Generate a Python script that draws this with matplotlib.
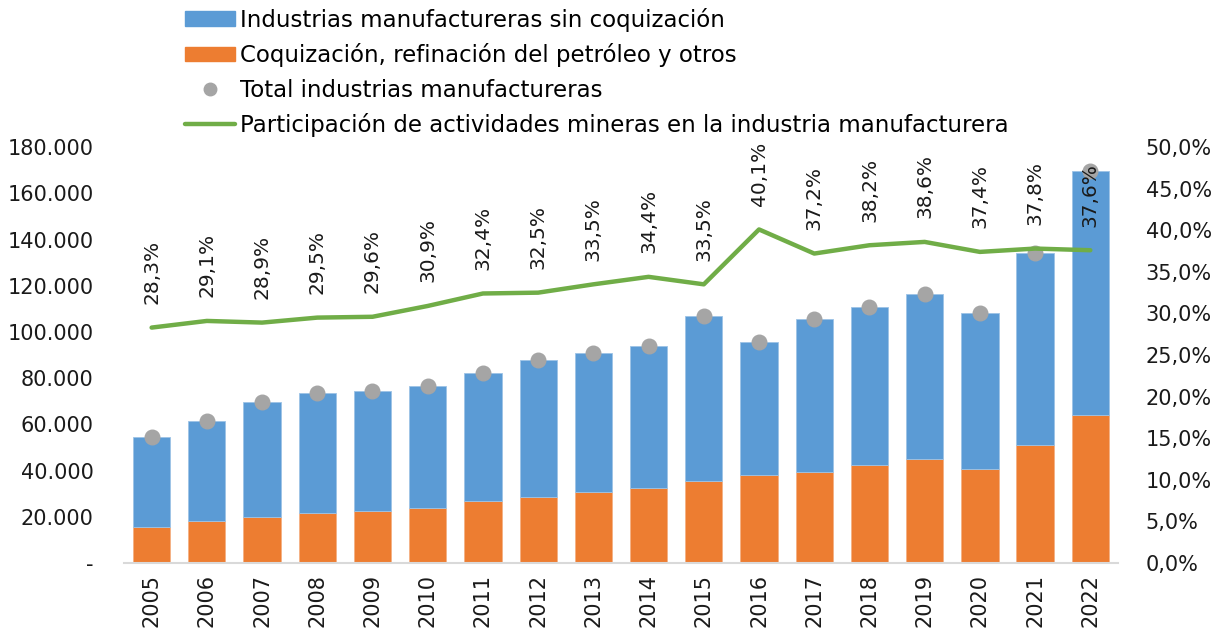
import matplotlib.pyplot as plt
from matplotlib.ticker import FuncFormatter
from matplotlib.lines import Line2D
from matplotlib.patches import Patch

plt.rcParams['font.family'] = ['DejaVu Sans']

years = [str(y) for y in range(2005, 2023)]
# millones (lectura aproximada del grafico)
total = [54500, 61400, 69700, 73600, 74400, 76600, 82200, 87800, 90900,
         93900, 106900, 95600, 105600, 110800, 116400, 108200, 134100, 169600]
coque = [15600, 18200, 19900, 21600, 22500, 23800, 26800, 28600, 30700,
         32500, 35500, 38100, 39400, 42400, 45000, 40700, 51100, 64000]
sin_coque = [t - c for t, c in zip(total, coque)]
participacion = [28.3, 29.1, 28.9, 29.5, 29.6, 30.9, 32.4, 32.5, 33.5,
                 34.4, 33.5, 40.1, 37.2, 38.2, 38.6, 37.4, 37.8, 37.6]

c_blue = '#5B9BD5'
c_orange = '#ED7D31'
c_gray = '#A5A5A5'
c_green = '#70AD47'

fig = plt.figure(figsize=(12.17, 6.34), dpi=100)
ax = fig.add_axes([0.1019, 0.112, 0.8167, 0.656])
ax2 = ax.twinx()

x = list(range(len(years)))
ax.bar(x, coque, width=0.675, color=c_orange, edgecolor='#F4B183', linewidth=0.6, zorder=2)
ax.bar(x, sin_coque, bottom=coque, width=0.675, color=c_blue, edgecolor='#9DC3E6',
       linewidth=0.6, zorder=2)
ax.scatter(x, total, s=110, color=c_gray, zorder=3)

ax2.plot(x, participacion, color=c_green, lw=3.2, solid_capstyle='round', zorder=4)
for xi, p in zip(x, participacion):
    ax2.annotate(f"{p:.1f}%".replace('.', ','), (xi, p), xytext=(0, 17),
                 textcoords='offset points', rotation=90, ha='center', va='bottom',
                 fontsize=14.5, color='#1a1a1a')

ax.set_xlim(-0.5, len(years) - 0.5)
ax.set_ylim(0, 180000)
ax2.set_ylim(0, 50)
ax.set_yticks(range(0, 180001, 20000))
ax2.set_yticks(range(0, 51, 5))


def fmt_left(v, pos):
    if v == 0:
        return '-'
    return f"{int(v):,}".replace(',', '.')


ax.yaxis.set_major_formatter(FuncFormatter(fmt_left))
ax2.yaxis.set_major_formatter(FuncFormatter(lambda v, pos: f"{v:.1f}%".replace('.', ',')))
ax.set_xticks(x)
ax.set_xticklabels(years, rotation=90)

for a in (ax, ax2):
    for s in a.spines.values():
        s.set_visible(False)
    a.tick_params(length=0, labelsize=15, colors='#1a1a1a')
ax.spines['bottom'].set_visible(True)
ax.spines['bottom'].set_color('#D9D9D9')
ax.spines['bottom'].set_linewidth(1.5)
ax.tick_params(axis='y', pad=22)
ax.tick_params(axis='x', pad=8)
ax2.tick_params(axis='y', pad=20)

handles = [
    Patch(color=c_blue),
    Patch(color=c_orange),
    Line2D([], [], marker='o', color=c_gray, ls='none', markersize=9),
    Line2D([], [], color=c_green, lw=3.2, solid_capstyle='round'),
]
labels = [
    'Industrias manufactureras sin coquización',
    'Coquización, refinación del petróleo y otros',
    'Total industrias manufactureras',
    'Participación de actividades mineras en la industria manufacturera',
]
fig.legend(handles, labels, loc='upper left', bbox_to_anchor=(0.152, 0.988), frameon=False,
           fontsize=16.5, handlelength=2.2, handleheight=0.6, handletextpad=0.2,
           labelspacing=0.5, borderaxespad=0, borderpad=0)

fig.savefig('out.png', dpi=100)
